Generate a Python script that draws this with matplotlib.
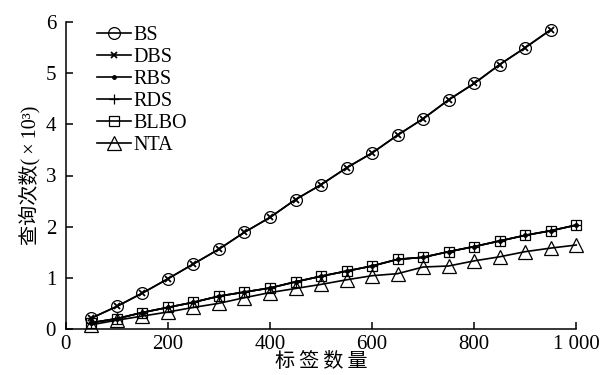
import numpy as np
import matplotlib
matplotlib.use("Agg")
from matplotlib import pyplot as plt

plt.rcParams['font.family'] = ['Liberation Serif', 'Noto Sans CJK SC']

# tag counts
x_bs = [50, 100, 150, 200, 250, 300, 350, 400, 450, 500, 550, 600, 650, 700,
        750, 800, 850, 900, 950]
x_all = x_bs + [1000]

# query counts (x10^3)
bs = [0.21, 0.44, 0.70, 0.98, 1.27, 1.56, 1.89, 2.18, 2.53, 2.82, 3.15, 3.44,
      3.79, 4.11, 4.48, 4.80, 5.17, 5.50, 5.85]
dbs = [0.21, 0.44, 0.70, 0.98, 1.27, 1.56, 1.89, 2.18, 2.53, 2.82, 3.15, 3.44,
       3.79, 4.11, 4.48, 4.80, 5.17, 5.50, 5.85]
rbs = [0.12, 0.20, 0.32, 0.42, 0.52, 0.64, 0.72, 0.80, 0.92, 1.03, 1.13, 1.23,
       1.36, 1.40, 1.51, 1.61, 1.72, 1.83, 1.92, 2.03]
rds = [0.12, 0.20, 0.32, 0.42, 0.52, 0.64, 0.72, 0.80, 0.92, 1.03, 1.13, 1.23,
       1.36, 1.40, 1.51, 1.61, 1.72, 1.83, 1.92, 2.03]
blbo = [0.12, 0.20, 0.32, 0.42, 0.52, 0.64, 0.72, 0.80, 0.92, 1.03, 1.13, 1.23,
        1.36, 1.40, 1.51, 1.61, 1.72, 1.83, 1.92, 2.03]
nta = [0.08, 0.17, 0.25, 0.33, 0.42, 0.50, 0.61, 0.71, 0.79, 0.87, 0.96, 1.04,
       1.08, 1.21, 1.23, 1.33, 1.41, 1.51, 1.58, 1.64]

xticks = [0, 200, 400, 600, 800, 1000]
xticklabels = ['0', '200', '400', '600', '800', '1 000']
yticks = [0, 1, 2, 3, 4, 5, 6]

fig = plt.figure(figsize=(6.04, 3.75), dpi=100)
ax = fig.add_axes([0.109, 0.123, 0.845, 0.818])

lw = 1.2
kw = dict(color='k', lw=lw, clip_on=False)
ax.plot(x_bs, bs, marker='o', ms=8.5, mfc='none', mew=0.9, label='BS', **kw)
ax.plot(x_bs, dbs, marker='x', ms=4.5, mew=1.3, label='DBS', **kw)
ax.plot(x_all, rbs, marker='.', ms=5, label='RBS', **kw)
ax.plot(x_all, rds, marker='+', ms=6.5, mew=0.9, label='RDS', **kw)
ax.plot(x_all, blbo, marker='s', ms=7, mfc='none', mew=0.9, label='BLBO', **kw)
ax.plot(x_all, nta, marker='^', ms=9.5, mfc='none', mew=0.9, label='NTA', **kw)

ax.set_xlim(0, 1000)
ax.set_ylim(0, 6)
ax.set_xticks(xticks)
ax.set_xticklabels(xticklabels)
ax.set_yticks(yticks)
ax.tick_params(direction='in', length=5, width=1.1, labelsize=15)
ax.tick_params(axis='x', pad=4.5)
ax.tick_params(axis='y', pad=7)
for s in ['top', 'right']:
    ax.spines[s].set_visible(False)
for s in ['left', 'bottom']:
    ax.spines[s].set_linewidth(1.1)

ax.set_xlabel('标\u2009签\u2009数\u2009量', fontsize=14.5, labelpad=-0.5)
ax.set_ylabel('查询次数(\u2009×\u200910³)', fontsize=14.5, labelpad=4)

ax.legend(loc='upper left', bbox_to_anchor=(0.045, 1.015), frameon=False, fontsize=14.5,
          handlelength=1.7, handletextpad=0.1, labelspacing=0.15, borderaxespad=0)

fig.savefig('out.png', dpi=100)
